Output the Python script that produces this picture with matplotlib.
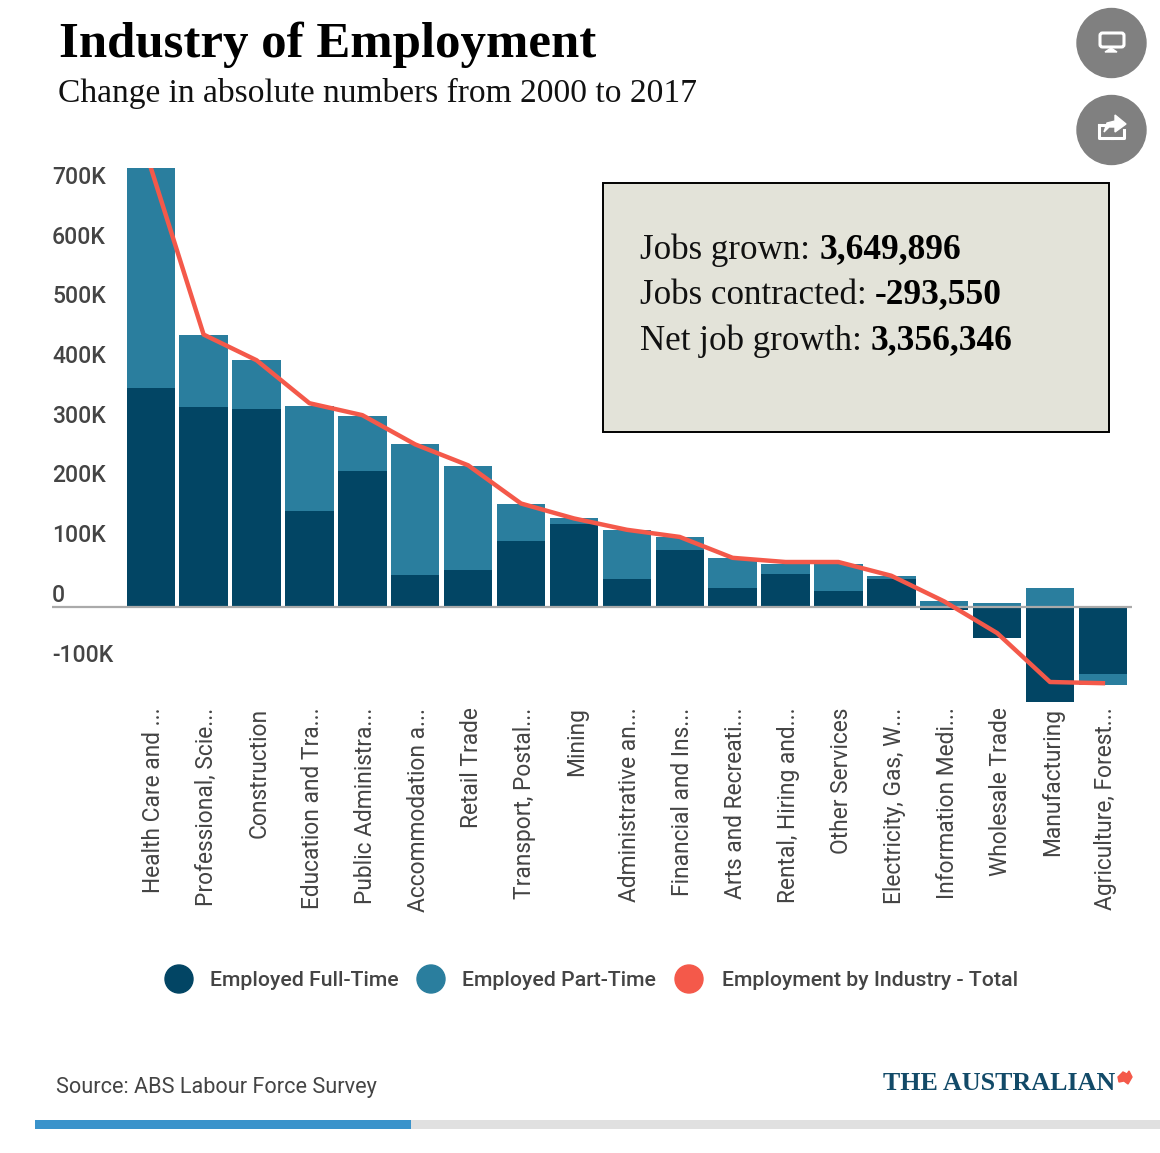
import matplotlib
matplotlib.use('Agg')
import matplotlib.pyplot as plt
from matplotlib.patches import Circle, FancyBboxPatch, Polygon, Rectangle
from matplotlib.transforms import ScaledTranslation

plt.rcParams['font.family'] = ['Roboto', 'DejaVu Sans']

industries = ['Health Care and ...', 'Professional, Scie...', 'Construction',
              'Education and Tra...', 'Public Administra...', 'Accommodation a...',
              'Retail Trade', 'Transport, Postal...', 'Mining', 'Administrative an...',
              'Financial and Ins...', 'Arts and Recreati...', 'Rental, Hiring and...',
              'Other Services', 'Electricity, Gas, W...', 'Information Medi...',
              'Wholesale Trade', 'Manufacturing', 'Agriculture, Forest...']

# values in thousands
full_time = [367, 335, 332, 161, 228, 55, 62, 111, 139, 48, 96, 33, 56, 28, 48, -4, -51, -159, -112]
part_time = [370, 122, 82, 177, 92, 218, 174, 63, 10, 82, 22, 50, 17, 45, 5, 10, 7, 33, -18]
total = [737, 457, 414, 342, 322, 273, 238, 174, 149, 130, 118, 83, 76, 76, 53, 10, -43, -125, -127]

y_ticks = [700, 600, 500, 400, 300, 200, 100, 0, -100]
y_labels = ['700K', '600K', '500K', '400K', '300K', '200K', '100K', '0', '-100K']

DARK = '#024564'
MID = '#2a7e9e'
RED = '#f4594a'
TEXT = '#444444'

W, H = 1160, 1153
fig = plt.figure(figsize=(W / 100, H / 100), dpi=100, facecolor='white')

# chart area
ax = fig.add_axes([52 / W, 1 - 702 / H, 1080 / W, 534 / H])
x = list(range(len(industries)))
part_bottom = [f if p > 0 and f > 0 else (f if p < 0 else 0) for f, p in zip(full_time, part_time)]
ax.bar(x, full_time, width=0.915, color=DARK)
ax.bar(x, part_time, bottom=part_bottom, width=0.915, color=MID)
ax.plot(x, total, color=RED, linewidth=3.2, solid_joinstyle='round', zorder=5)
ax.set_xlim(-1.866, 18.55)
ax.set_ylim(-158.5, 736)
ax.axhline(0, color='#aaaaaa', linewidth=1.6, zorder=4)
for side in ax.spines:
    ax.spines[side].set_visible(False)
ax.patch.set_alpha(0)

ax.set_yticks([])
for v, lab in zip(y_ticks, y_labels):
    ax.annotate(lab, xy=(0, v), xycoords=ax.get_yaxis_transform(), xytext=(0, 12),
                textcoords='offset pixels', va='center', ha='left',
                fontsize=16.5, fontweight='medium', color=TEXT)

ax.set_xticks(x)
ax.set_xticklabels(industries, rotation=90, fontsize=16.4, color=TEXT, ha='center', va='top')
ax.tick_params(axis='x', length=0, pad=4)
shift = ScaledTranslation(3 / 100, 0, fig.dpi_scale_trans)
for lab in ax.get_xticklabels():
    lab.set_transform(lab.get_transform() + shift)

# overlay in pixel coordinates for the page furniture
top = fig.add_axes([0, 0, 1, 1], zorder=10)
top.set_xlim(0, W)
top.set_ylim(H, 0)
top.axis('off')
top.patch.set_alpha(0)

top.text(59, 45, 'Industry of Employment', family='Liberation Serif', fontweight='bold',
         fontsize=36.6, color='black', va='center')
top.text(58, 93, 'Change in absolute numbers from 2000 to 2017', family='Liberation Serif',
         fontsize=24.1, color='#111111', va='center')

# summary box
top.add_patch(Rectangle((603, 183), 506, 249, facecolor='#e3e3d9', edgecolor='black', linewidth=1.4))
rows = [(250, 'Jobs grown: ', 820, '3,649,896'),
        (295, 'Jobs contracted: ', 875, '-293,550'),
        (341, 'Net job growth: ', 871, '3,356,346')]
for y, lab, bx, val in rows:
    top.text(640, y, lab, family='Liberation Serif', fontsize=25.2, color='#111111', va='center')
    top.text(bx, y, val, family='Liberation Serif', fontsize=25.5, fontweight='bold', color='black', va='center')

# round buttons
top.add_patch(Circle((1111.5, 43), 34.5, color='#808080'))
top.add_patch(Circle((1111.5, 130), 34.5, color='#808080'))
top.add_patch(FancyBboxPatch((1100, 33), 24, 14, boxstyle='round,pad=0,rounding_size=2.5',
                             facecolor='none', edgecolor='white', linewidth=2.2))
top.add_patch(Polygon([(1105, 52), (1117, 52), (1111, 48)], color='white'))
top.plot([1099, 1099, 1112], [125, 138, 138], color='white', linewidth=2.2)
top.plot([1112, 1124, 1124], [138, 138, 130], color='white', linewidth=2.2)
top.plot([1099, 1104], [125, 125], color='white', linewidth=2.2)
top.add_patch(Polygon([(1104, 132), (1107, 123), (1115, 121), (1115, 115), (1126, 124),
                       (1115, 132), (1115, 127), (1109, 127)], color='white'))

# legend
for cx, col, tx, lab in [(179, DARK, 210, 'Employed Full-Time'),
                         (431, MID, 462, 'Employed Part-Time'),
                         (689, RED, 722, 'Employment by Industry - Total')]:
    top.add_patch(Circle((cx, 979), 14, color=col))
    top.text(tx, 980, lab, fontsize=15.3, fontweight='medium', color=TEXT, va='center')

# footer
top.text(56, 1087, 'Source: ABS Labour Force Survey', fontsize=15.6, color=TEXT, va='center')
top.text(883, 1083, 'THE AUSTRALIAN', family='Liberation Serif', fontweight='bold',
         fontsize=18.7, color='#124a68', va='center')
top.add_patch(Polygon([(1118, 1077), (1123, 1072), (1127, 1074), (1129, 1071), (1132, 1077),
                       (1128, 1084), (1124, 1081), (1119, 1082)], color=RED))
top.add_patch(Rectangle((411, 1120), 749, 9, color='#e0e0e0', linewidth=0))
top.add_patch(Rectangle((35, 1120), 376, 9, color='#3a93cb', linewidth=0))

fig.savefig('out.png', dpi=100)
